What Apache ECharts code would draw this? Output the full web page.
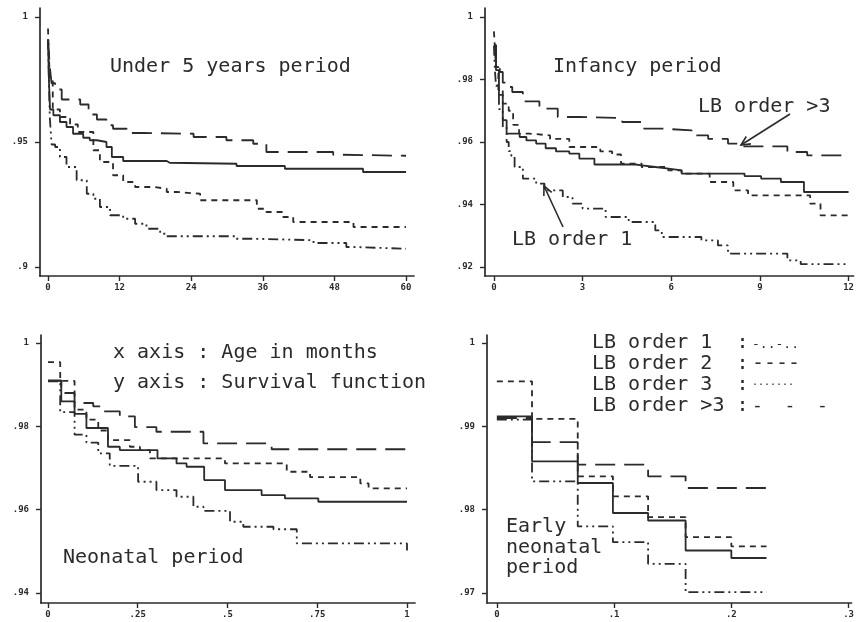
<!DOCTYPE html>
<html>
<head>
<meta charset="utf-8">
<title>Survival by live-birth order</title>
<script src="https://cdn.jsdelivr.net/npm/echarts@6/dist/echarts.min.js"></script>
<style>
  html, body { margin: 0; background: #fff; }
  #chart { width: 857px; height: 622px; }
</style>
</head>
<body>
<div id="chart"></div>
<script>
// survival curves as [age in months, S(t)] – each pair is where a step lands
// under 5 years
const u5Order1 = [[0, 0.991], [0.3, 0.96], [0.6, 0.949], [1.2, 0.948], [2, 0.944], [3.1, 0.94], [4.8, 0.9347], [6.5, 0.9293], [7.6, 0.9273], [8.7, 0.924], [10.4, 0.9207], [12.6, 0.9193], [14.6, 0.9173], [16.5, 0.9153], [18.8, 0.9133], [19.9, 0.9123], [31.6, 0.9113], [34.4, 0.9107], [44.5, 0.9096], [50, 0.908], [51.2, 0.9073], [60, 0.9073]]
const u5Order2 = [[0, 0.9954], [0.3, 0.975], [0.8, 0.963], [2, 0.96], [3.7, 0.957], [5, 0.954], [7.6, 0.9467], [8.7, 0.942], [10.9, 0.9367], [12.6, 0.934], [14.6, 0.932], [17.7, 0.9313], [19.9, 0.93], [21.6, 0.9293], [25.5, 0.9267], [35, 0.9233], [36.6, 0.922], [39.4, 0.92], [41.1, 0.918], [51.2, 0.916], [60, 0.916]]
const u5Order3 = [[0, 0.991], [0.15, 0.975], [0.34, 0.963], [0.9, 0.9607], [2, 0.958], [3.1, 0.956], [4.2, 0.9533], [5.9, 0.9517], [7, 0.9507], [8.2, 0.95], [9.8, 0.948], [10.7, 0.944], [12.6, 0.9424], [19.9, 0.9417], [20.4, 0.9413], [31.6, 0.9404], [39.7, 0.9393], [52.8, 0.938], [60, 0.938]]
const u5Order4 = [[0, 0.991], [0.3, 0.98], [0.6, 0.9735], [1.2, 0.971], [2.3, 0.967], [5.4, 0.965], [6.8, 0.961], [8.2, 0.959], [9.8, 0.9567], [10.9, 0.9553], [13.2, 0.9536], [16, 0.9533], [24.4, 0.952], [29.9, 0.9507], [34.4, 0.9493], [36.6, 0.946], [47.8, 0.9449], [49.5, 0.9445], [60, 0.9445]]

// infancy
const infOrder1 = [[0, 0.9908], [0.03, 0.9834], [0.07, 0.978], [0.17, 0.9705], [0.3, 0.9647], [0.43, 0.96], [0.5, 0.9571], [0.59, 0.9555], [0.7, 0.952], [0.98, 0.9483], [1.43, 0.9467], [1.71, 0.9445], [2.33, 0.9424], [2.66, 0.9403], [3, 0.9387], [3.78, 0.936], [4.56, 0.9344], [5.46, 0.9317], [5.68, 0.9296], [7.02, 0.9285], [7.58, 0.9269], [7.92, 0.9243], [9.93, 0.9221], [10.38, 0.9209], [12, 0.9209]]
const infOrder2 = [[0, 0.9954], [0.03, 0.9909], [0.07, 0.984], [0.15, 0.9767], [0.3, 0.9723], [0.5, 0.97], [0.65, 0.9655], [0.85, 0.9627], [1.2, 0.9621], [1.9, 0.961], [2.55, 0.9584], [3.6, 0.957], [4, 0.956], [4.3, 0.9531], [5, 0.952], [5.9, 0.9509], [6.35, 0.9499], [7.3, 0.9472], [8.1, 0.9445], [8.6, 0.9429], [10.7, 0.9403], [11.05, 0.9365], [12, 0.9365]]
const infOrder3 = [[0, 0.991], [0.07, 0.983], [0.17, 0.9751], [0.3, 0.967], [0.43, 0.9627], [0.87, 0.9616], [1.1, 0.9605], [1.43, 0.9595], [1.75, 0.958], [2.1, 0.957], [2.55, 0.9563], [2.89, 0.9547], [3.4, 0.9528], [4.79, 0.9525], [5.01, 0.952], [5.46, 0.9515], [5.91, 0.9509], [6.35, 0.9499], [8.48, 0.9491], [9.04, 0.9483], [9.71, 0.9472], [10.49, 0.944], [12, 0.944]]
const infOrder4 = [[0, 0.991], [0.07, 0.9856], [0.2, 0.9824], [0.3, 0.979], [0.45, 0.9776], [0.62, 0.976], [0.98, 0.973], [1.54, 0.9707], [2.16, 0.968], [2.89, 0.9677], [4.34, 0.9664], [5, 0.9643], [5.68, 0.9637], [6.69, 0.9621], [7.25, 0.961], [7.92, 0.9595], [8.37, 0.9586], [9.93, 0.9568], [10.6, 0.9557], [12, 0.9557]]

// neonatal
const neoOrder1 = [[0, 0.9908], [0.034, 0.9834], [0.074, 0.978], [0.107, 0.9761], [0.14, 0.9735], [0.172, 0.9705], [0.251, 0.9667], [0.302, 0.9647], [0.358, 0.9631], [0.405, 0.9607], [0.433, 0.9597], [0.507, 0.9571], [0.544, 0.9559], [0.628, 0.9553], [0.693, 0.9519], [1, 0.9502]]
const neoOrder2 = [[0, 0.9954], [0.034, 0.9909], [0.074, 0.984], [0.107, 0.9816], [0.14, 0.979], [0.167, 0.9767], [0.228, 0.9751], [0.256, 0.9743], [0.284, 0.9723], [0.493, 0.9711], [0.665, 0.9691], [0.73, 0.9678], [0.87, 0.9663], [0.893, 0.9651], [1, 0.9651]]
const neoOrder3 = [[0, 0.9909], [0.037, 0.986], [0.074, 0.983], [0.107, 0.9796], [0.167, 0.9751], [0.2, 0.9743], [0.305, 0.9723], [0.358, 0.9711], [0.386, 0.9703], [0.435, 0.9671], [0.493, 0.9647], [0.595, 0.9635], [0.66, 0.9627], [0.753, 0.9619], [1, 0.9619]]
const neoOrder4 = [[0, 0.991], [0.037, 0.988], [0.074, 0.9856], [0.126, 0.9848], [0.149, 0.9836], [0.2, 0.9824], [0.242, 0.9798], [0.302, 0.9787], [0.433, 0.9759], [0.623, 0.9745], [1, 0.9735]]

// early neonatal (first week)
const earlyOrder1 = [[0, 0.9908], [0.03, 0.9834], [0.069, 0.978], [0.099, 0.9761], [0.129, 0.9735], [0.161, 0.9701], [0.23, 0.9701]]
const earlyOrder2 = [[0, 0.9954], [0.03, 0.9909], [0.069, 0.984], [0.099, 0.9816], [0.129, 0.9791], [0.161, 0.9767], [0.2, 0.9756], [0.23, 0.9756]]
const earlyOrder3 = [[0, 0.9912], [0.03, 0.9858], [0.069, 0.9832], [0.099, 0.9796], [0.129, 0.9787], [0.161, 0.9751], [0.2, 0.9742], [0.23, 0.9742]]
const earlyOrder4 = [[0, 0.991], [0.03, 0.9881], [0.069, 0.9854], [0.129, 0.984], [0.161, 0.9826], [0.23, 0.9826]]

// tick labels
const u5Ticks = [0, 12, 24, 36, 48, 60]
const infTicks = [0, 3, 6, 9, 12]
const neoTicks = [0, 0.25, 0.5, 0.75, 1]
const earlyTicks = [0, 0.1, 0.2, 0.3]
const u5SurvTicks = [0.9, 0.95, 1]
const infSurvTicks = [0.92, 0.94, 0.96, 0.98, 1]
const neoSurvTicks = [0.94, 0.96, 0.98, 1]
const earlySurvTicks = [0.97, 0.98, 0.99, 1]

const orderLabels = ['LB order 1  :', 'LB order 2  :', 'LB order 3  :', 'LB order >3 :']
const orderSamples = ['-..-..', '----', '.......', '-  -  -']

const ink = '#2b2b2b'
const mono = '"DejaVu Sans Mono", monospace'
// dash-dot-dot, short dash, dotted (prints solid), long dash
const dashes = [[10, 4, 2, 4, 2, 4], [6, 5], 'solid', [20, 9]]

// grid boxes and axis ranges chosen so tick 0 sits just right of the y axis, as on the scan
const panels = [
  { box: { left: 40, top: 8, width: 374, height: 268 }, x: [-1.341, 61.341], y: [0.8964, 1.0036],
    xt: u5Ticks, yt: u5SurvTicks, curves: [u5Order1, u5Order2, u5Order3, u5Order4] },
  { box: { left: 485, top: 8, width: 372, height: 268 }, x: [-0.3017, 12.168], y: [0.91712, 1.00288],
    xt: infTicks, yt: infSurvTicks, curves: [infOrder1, infOrder2, infOrder3, infOrder4] },
  { box: { left: 41, top: 335, width: 374, height: 268 }, x: [-0.0195, 1.0223], y: [0.9376, 1.00192],
    xt: neoTicks, yt: neoSurvTicks, curves: [neoOrder1, neoOrder2, neoOrder3, neoOrder4] },
  { box: { left: 487, top: 335, width: 370, height: 268 }, x: [-0.0084, 0.3025], y: [0.9688, 1.00096],
    xt: earlyTicks, yt: earlySurvTicks, curves: [earlyOrder1, earlyOrder2, earlyOrder3, earlyOrder4] }
]

const fmt = v => (v === 0 || v === 1) ? String(v) : String(v).replace(/^0/, '')

const axisBase = (ticks, min, max) => ({
  type: 'value', min, max, scale: true,
  axisLine: { onZero: false, lineStyle: { color: ink, width: 1.7 } },
  axisTick: { length: 5, customValues: ticks, lineStyle: { color: ink, width: 1.4 } },
  splitLine: { show: false },
  axisLabel: {
    customValues: ticks, formatter: fmt, color: ink, fontFamily: mono,
    fontSize: 9, fontWeight: 'bold'
  }
})

const text = (s, x, y, size) => ({
  type: 'text', x, y,
  style: { text: s, font: `${size || 20}px ${mono}`, fill: ink, verticalAlign: 'middle', align: 'left' }
})

const arrow = (x1, y1, x2, y2) => {
  // tail (x1,y1) -> tip (x2,y2)
  const a = Math.atan2(y1 - y2, x1 - x2)
  const L = 10, w = 0.45
  return [
    { type: 'line', shape: { x1, y1, x2, y2 }, style: { stroke: ink, lineWidth: 1.6 } },
    { type: 'polyline', shape: { points: [
      [x2 + L * Math.cos(a + w), y2 + L * Math.sin(a + w)], [x2, y2],
      [x2 + L * Math.cos(a - w), y2 + L * Math.sin(a - w)]] },
      style: { stroke: ink, lineWidth: 1.6, fill: null } }
  ]
}

const grid = [], xAxis = [], yAxis = [], series = []
panels.forEach((p, i) => {
  grid.push(p.box)
  const xa = axisBase(p.xt, p.x[0], p.x[1])
  xa.gridIndex = i
  xa.axisLabel.margin = 7
  xAxis.push(xa)
  const ya = axisBase(p.yt, p.y[0], p.y[1])
  ya.gridIndex = i
  ya.axisLabel.margin = 12
  yAxis.push(ya)
  p.curves.forEach((c, k) => {
    series.push({
      type: 'line', xAxisIndex: i, yAxisIndex: i, step: 'end', data: c,
      showSymbol: false, symbol: 'none', silent: true,
      lineStyle: { color: ink, width: 1.8, type: dashes[k] }
    })
  })
})

const graphic = [
  text('Under 5 years period', 110, 67),
  text('Infancy period', 553, 67),
  text('LB order >3', 698, 107),
  text('LB order 1', 512, 240),
  ...arrow(790, 114, 741, 145),
  ...arrow(563, 227, 544, 186),
  text('x axis : Age in months', 113, 353),
  text('y axis : Survival function', 113, 383),
  text('Neonatal period', 63, 558),
  text('Early', 506, 527),
  text('neonatal', 506, 548),
  text('period', 506, 568)
]
orderLabels.forEach((s, k) => {
  graphic.push(text(s, 592, 343 + k * 21))
})
graphic.push(text(orderSamples[0], 752, 345, 13))
graphic.push(text(orderSamples[1], 752, 364, 20))
graphic.push(text(orderSamples[2], 752, 382, 10))
graphic.push(text(orderSamples[3], 752, 406, 18))

const chart = echarts.init(document.getElementById('chart'))
chart.setOption({
  animation: false,
  backgroundColor: '#fff',
  grid, xAxis, yAxis, series, graphic
})
</script>
</body>
</html>
